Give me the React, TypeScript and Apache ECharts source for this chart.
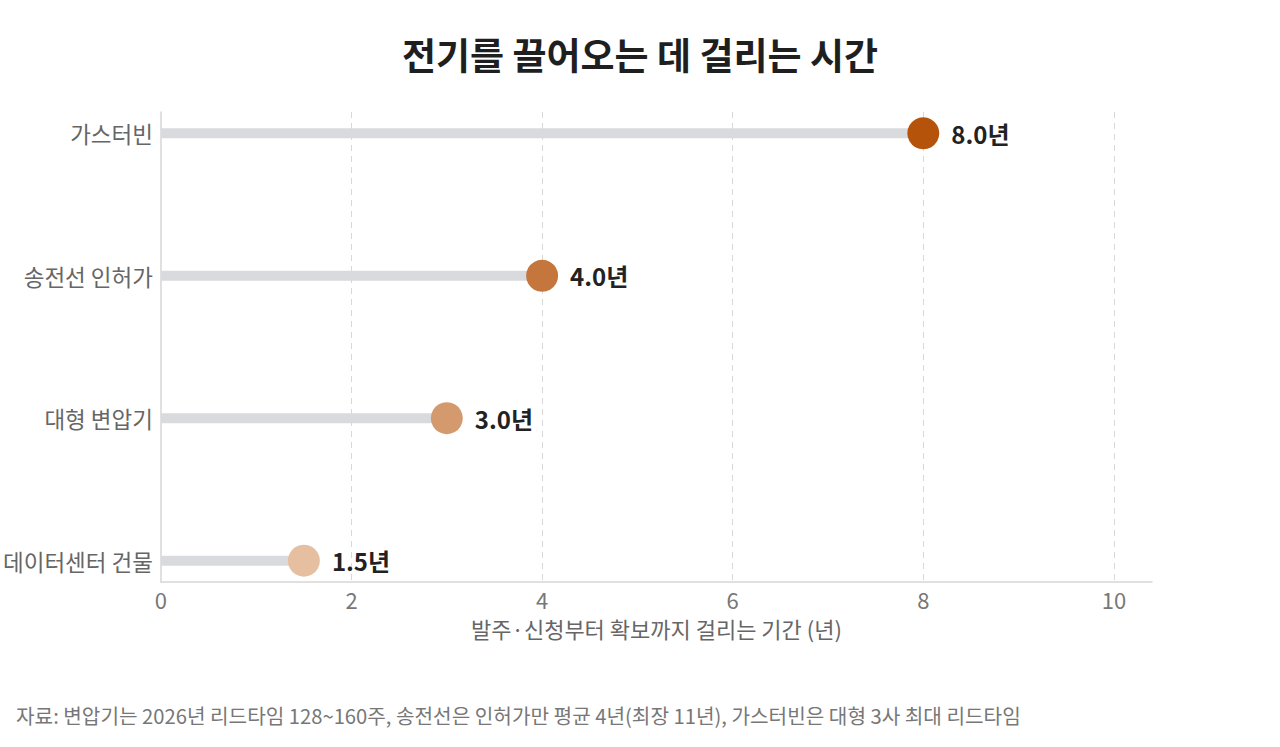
import { useEffect, useRef } from 'react';
import * as echarts from 'echarts';

/* ───── Data ───── */
const categories = ['가스터빈', '송전선 인허가', '대형 변압기', '데이터센터 건물'];
const years = [8.0, 4.0, 3.0, 1.5];
const dotColors = ['#b5530b', '#c4763c', '#d49a6e', '#e5bfa0'];
const xTicks = [0, 2, 4, 6, 8, 10];

const TITLE = '전기를 끌어오는 데 걸리는 시간';
const X_NAME = '발주·신청부터 확보까지 걸리는 기간 (년)';
const SOURCE = '자료: 변압기는 2026년 리드타임 128~160주, 송전선은 인허가만 평균 4년(최장 11년), 가스터빈은 대형 3사 최대 리드타임';

const FONT = '"Noto Sans CJK KR", "Noto Sans", sans-serif';

export default function App() {
  const ref = useRef<HTMLDivElement>(null);

  useEffect(() => {
    if (!ref.current) return;
    const chart = echarts.init(ref.current, undefined, { renderer: 'svg' });
    const n = categories.length;
    // top row sits at the highest y value
    const pts = years.map((v, i) => ({ value: [v, n - 1 - i], itemStyle: { color: dotColors[i], opacity: 1 } }));

    chart.setOption({
      animation: false,
      textStyle: { fontFamily: FONT },
      title: [
        {
          text: TITLE, left: 'center', top: 35, padding: 0,
          textStyle: { fontFamily: FONT, fontSize: 37, fontWeight: 'bold', color: '#1f1f1f' },
        },
        {
          text: SOURCE, left: 16, top: 705, padding: 0,
          textStyle: { fontFamily: FONT, fontSize: 20.2, fontWeight: 'normal', color: '#777' },
        },
      ],
      grid: { left: 160, right: 128, top: 112, bottom: 165, containLabel: false },
      xAxis: {
        type: 'value', min: 0, max: 10.4, interval: 2,
        name: X_NAME, nameLocation: 'middle', nameGap: 35,
        nameTextStyle: { fontFamily: FONT, fontSize: 22, color: '#666' },
        axisLine: { show: true, onZero: false, lineStyle: { color: '#d6d6d6', width: 1.5 } },
        axisTick: { show: false },
        axisLabel: {
          fontFamily: FONT, fontSize: 22, color: '#777', margin: 6,
          showMaxLabel: false,
          formatter: (v: number) => (xTicks.includes(v) ? String(v) : ''),
        },
        splitLine: {
          show: true, showMinLine: false, showMaxLine: false,
          lineStyle: { color: '#d8d8d8', type: [6, 5], width: 1 },
        },
      },
      yAxis: {
        type: 'value', min: -0.15, max: 3.15,
        axisLine: { show: true, onZero: false, lineStyle: { color: '#d6d6d6', width: 1.5 } },
        axisTick: { show: false },
        splitLine: { show: false },
        axisLabel: {
          fontFamily: FONT, fontSize: 22.5, color: '#666', margin: 8,
          showMinLabel: false, showMaxLabel: false,
          formatter: (v: number) => (Number.isInteger(v) && v >= 0 && v < n ? categories[n - 1 - v] : ''),
        },
      },
      series: [
        {
          type: 'custom',
          data: years.map((v, i) => [v, n - 1 - i]),
          renderItem: (_p: any, api: any) => {
            const s = api.coord([0, api.value(1)]);
            const e = api.coord([api.value(0), api.value(1)]);
            return {
              type: 'rect',
              shape: { x: s[0], y: s[1] - 5, width: e[0] - s[0], height: 10 },
              style: { fill: '#d9dadd' },
            };
          },
          z: 1,
        },
        {
          type: 'scatter',
          data: pts,
          symbolSize: 32,
          z: 3,
          label: {
            show: true, position: 'right', distance: 12,
            fontFamily: FONT, fontSize: 24, fontWeight: 'bold', color: '#222',
            formatter: (p: any) => `${p.value[0].toFixed(1)}년`,
          },
        },
      ],
    });
    return () => { chart.dispose(); };
  }, []);

  return <div ref={ref} style={{ position: 'fixed', left: 0, top: 0, width: 1280, height: 747, background: '#fff' }} />;
}
